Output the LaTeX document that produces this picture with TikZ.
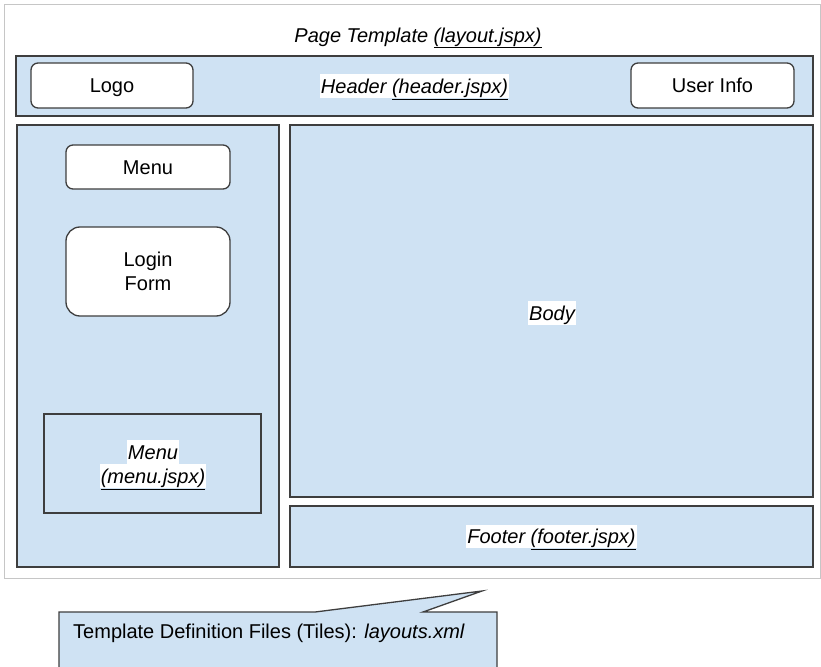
\documentclass[tikz,border=0pt]{standalone}
\usepackage{fontspec}
\setmainfont{Liberation Sans}
\definecolor{blau}{HTML}{CFE2F3}
\definecolor{rand}{HTML}{3E3E3E}
\definecolor{hgrau}{HTML}{C6C6C6}
\newcommand{\grund}{\fontsize{20}{24}\selectfont}
\tikzset{
  seite/.style={draw=hgrau,fill=white,line width=1pt},
  bereich/.style={draw=rand,fill=blau,line width=1.3pt,inner sep=0pt},
  knopf/.style={draw=rand,fill=white,line width=1.3pt,rounded corners=7pt,inner sep=0pt,text height=18pt,text depth=3.7pt},
  lbl/.style={fill=white,inner sep=1pt,font=\grund\itshape,text height=18pt,text depth=3.7pt},
  hinweis/.style={draw=rand,fill=blau,line width=1.3pt},
}
\begin{document}
\begin{tikzpicture}[x=1pt,y=-1pt,font=\grund]
  \useasboundingbox (0,0) rectangle (821,666);
  \draw[seite] (4,5) rectangle (820,578);
  \node[lbl] (seitentitel) at (418,35) {Page Template \underline{(layout.jspx)}};
  % header
  \node[bereich,minimum width=797pt,minimum height=60pt] (kopf) at (414.5,86) {};
  \node[lbl] (kopftitel) at (kopf) {Header \underline{(header.jspx)}};
  \node[knopf,minimum width=162pt,minimum height=45pt] (logo) at (112,85.5) {Logo};
  \node[knopf,minimum width=163pt,minimum height=45pt] (user) at (712.5,85.5) {User Info};
  % linke spalte
  \node[bereich,minimum width=262pt,minimum height=442pt] (links) at (148,346) {};
  \node[knopf,minimum width=164pt,minimum height=44pt] (menu) at (148,167) {Menu};
  \node[knopf,rounded corners=14pt,align=center,text height={},text depth={},minimum width=164pt,minimum height=89pt] (login) at (148,271.5) {Login\\Form};
  \node[bereich,minimum width=217pt,minimum height=99pt] (menubox) at (152.5,463.5) {};
  \node[lbl] (menutitel) at (153,452) {Menu};
  \node[lbl] (menudatei) at (153,476) {\underline{(menu.jspx)}};
  % body, footer
  \node[bereich,minimum width=523pt,minimum height=372pt] (body) at (551.5,311) {};
  \node[lbl] (bodytitel) at (552,313) {Body};
  \node[bereich,minimum width=523pt,minimum height=61pt] (fuss) at (551.5,536.5) {};
  \node[lbl] (fusstitel) at (fuss) {Footer \underline{(footer.jspx)}};
  % sprechblase
  \begin{scope}
    \clip (0,0) rectangle (821,666);
    \draw[hinweis] (59,690) -- (59,612) -- (315,612) -- (482,591) -- (423,612) -- (497,612) -- (497,690);
  \end{scope}
  \node[anchor=west,inner sep=0pt] (tiles) at (73,633) {Template Definition Files (Tiles): \textit{layouts.xml}};
\end{tikzpicture}
\end{document}
